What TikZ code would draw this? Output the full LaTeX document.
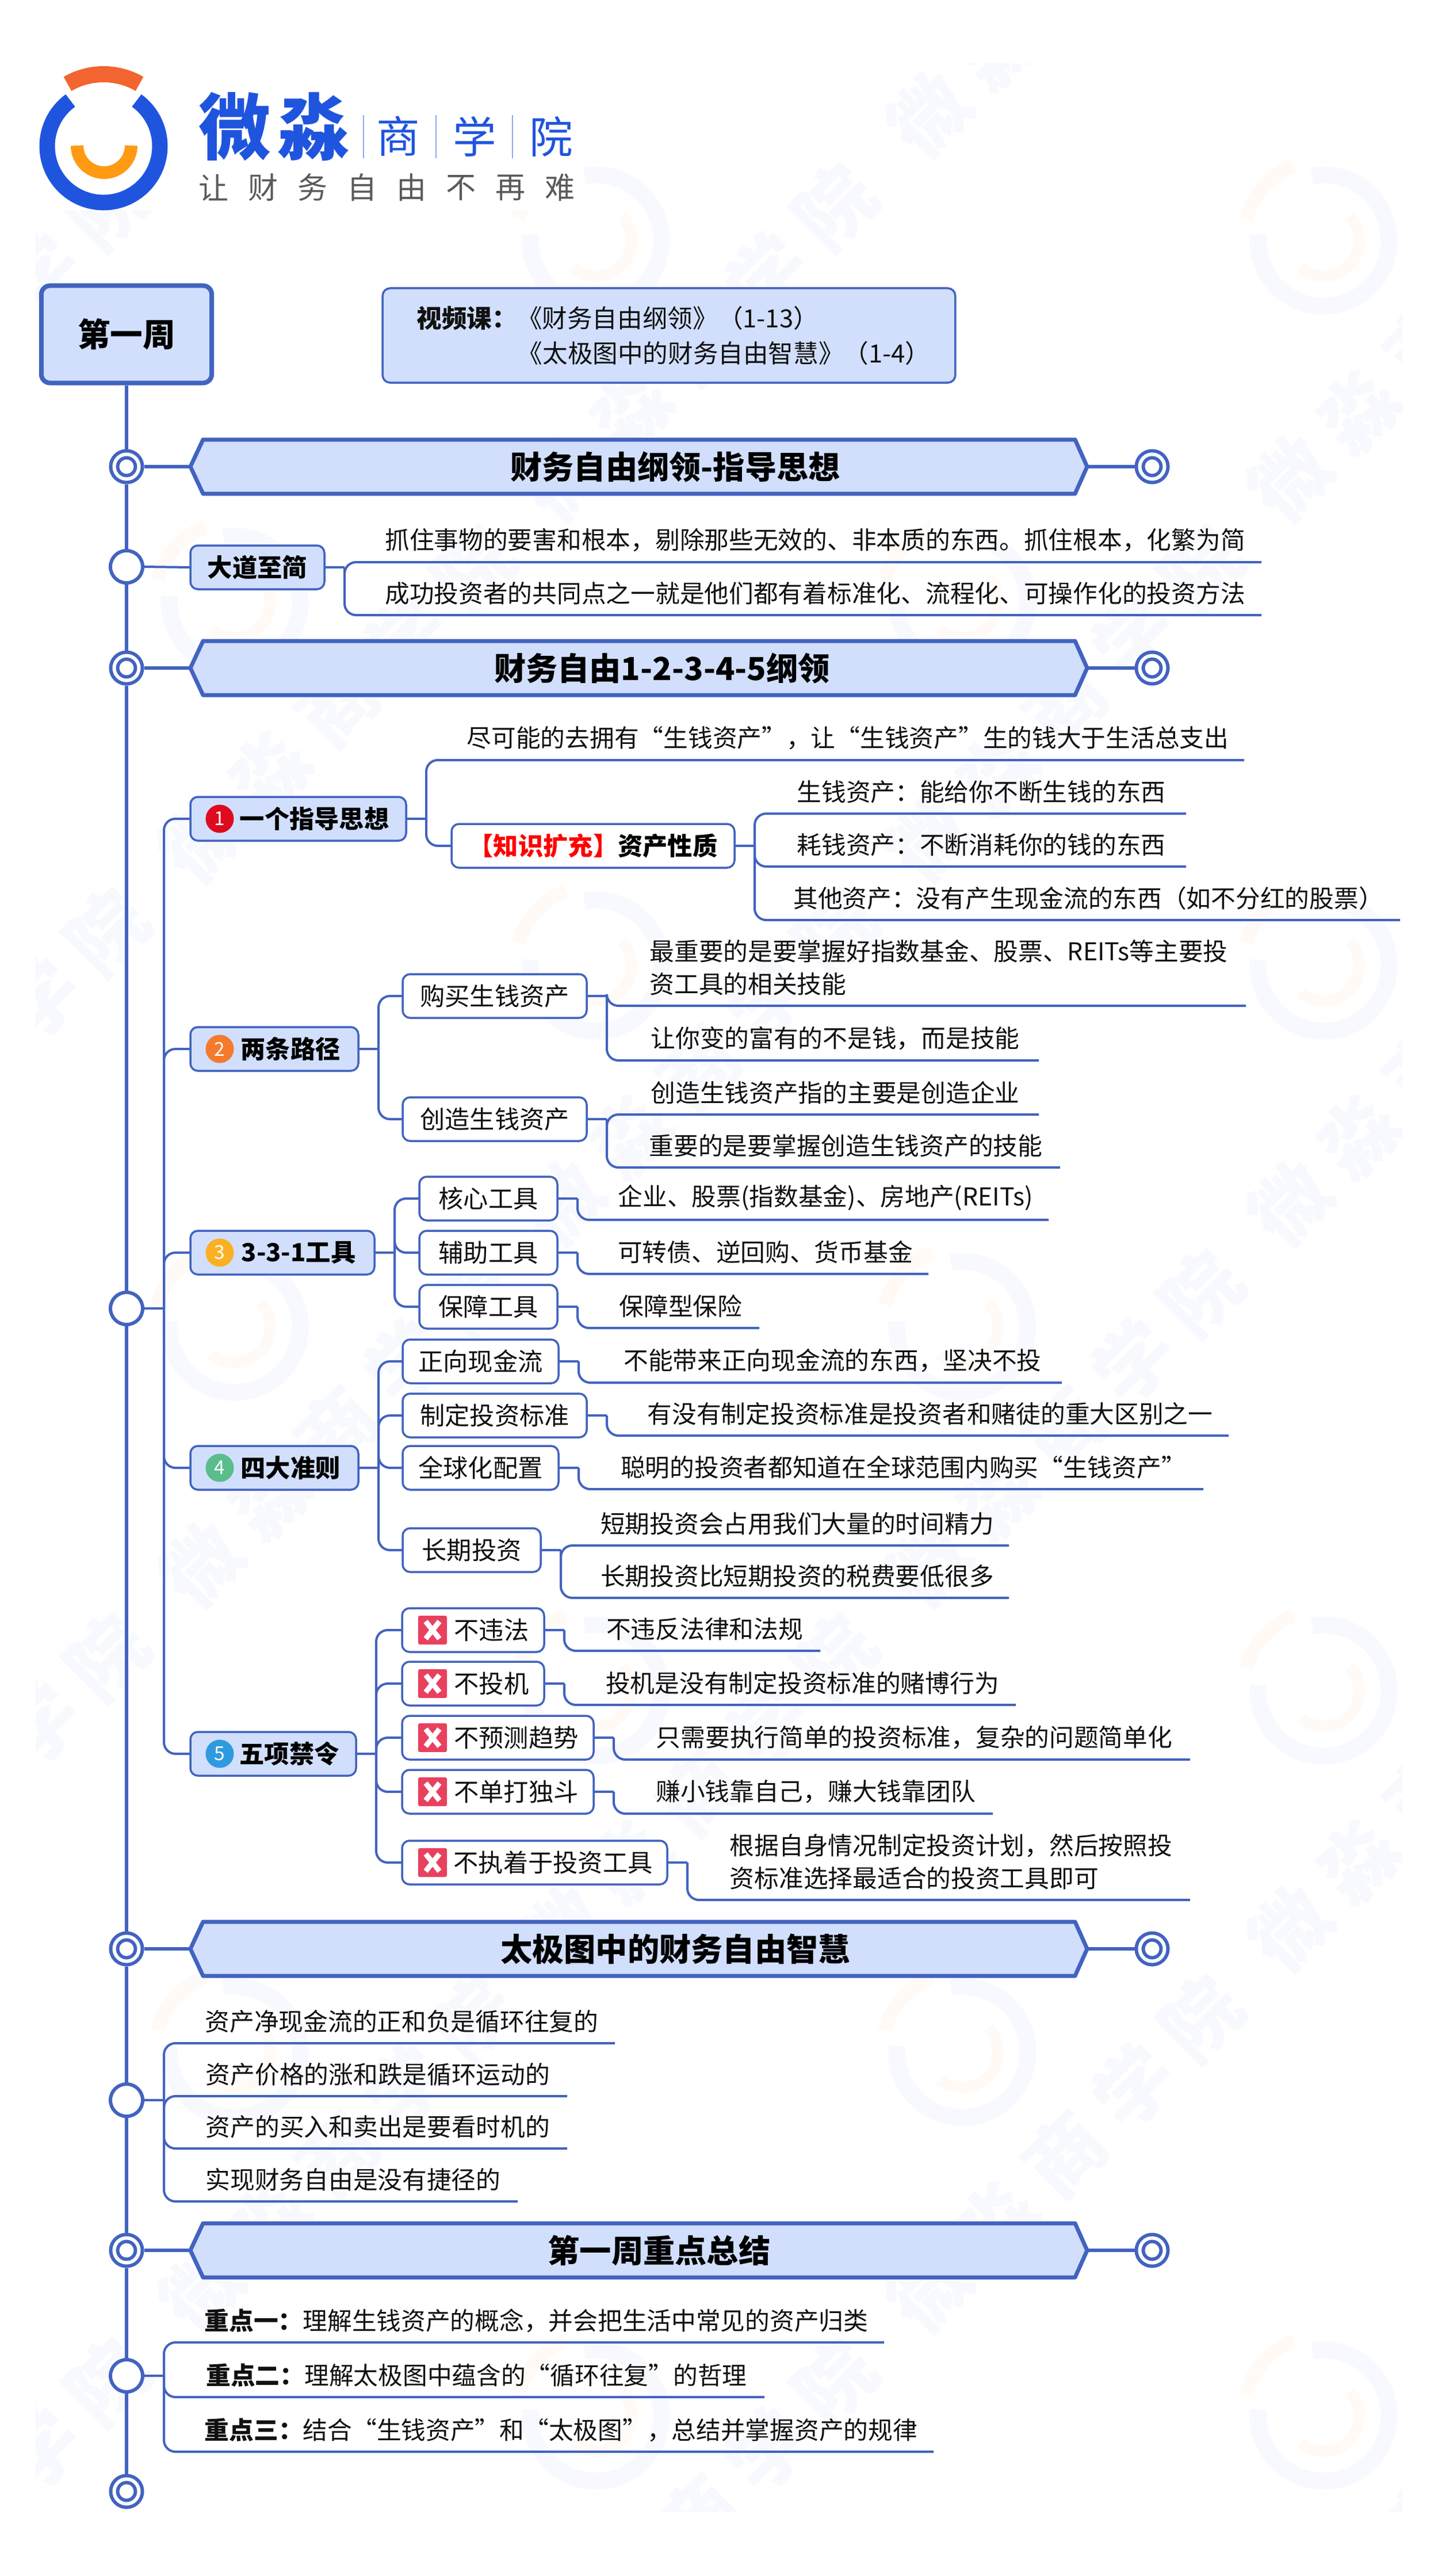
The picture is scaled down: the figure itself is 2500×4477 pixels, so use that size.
\documentclass[tikz,border=0pt]{standalone}
\usepackage{fontspec}
\setmainfont{Noto Sans CJK SC}
\definecolor{lineblue}{HTML}{4263BF}
\definecolor{fillblue}{HTML}{D1DFFD}
\definecolor{logoblue}{HTML}{1F55DE}
\definecolor{logoorange}{HTML}{F26430}
\definecolor{logosmile}{HTML}{FF9A12}
\definecolor{logogray}{HTML}{5A5A5A}
\definecolor{wmblue}{HTML}{F7F9FE}
\definecolor{wmorange}{HTML}{FFFAF6}
\definecolor{xred}{HTML}{E8415F}
\definecolor{txt}{HTML}{111111}
\definecolor{numa}{HTML}{DF0A1E}
\definecolor{numb}{HTML}{F47A2C}
\definecolor{numc}{HTML}{FBB024}
\definecolor{numd}{HTML}{59BE8B}
\definecolor{nume}{HTML}{2F9BDF}
\tikzset{
  x=0.01cm,y=-0.01cm,
  conn/.style={draw=lineblue,line width=.04cm},
  bendline/.style={conn,rounded corners=.2cm},
  spine/.style={draw=lineblue,line width=.06cm},
  thicklink/.style={draw=lineblue,line width=.06cm},
  ringp/.style={circle,draw=lineblue,fill=white,line width=.06cm,minimum size=.56cm,inner sep=0pt,outer sep=.03cm},
  ringd/.style={circle,draw=lineblue,fill=white,line width=.06cm,double=white,double distance=.06cm,minimum size=.43cm,inner sep=0pt,outer sep=.09cm},
  hdrshape/.style={draw=lineblue,fill=fillblue,line width=.07cm,line join=round},
  hdrtext/.style={font=\fontsize{15.7}{18}\selectfont\bfseries,text=black,inner sep=0pt},
  mainbox/.style={rectangle,rounded corners=.13cm,draw=lineblue,fill=fillblue,line width=.035cm,inner sep=0pt,outer sep=0pt,font=\fontsize{12.3}{15}\selectfont\bfseries,text=black},
  subbox/.style={rectangle,rounded corners=.13cm,draw=lineblue,fill=white,line width=.035cm,inner sep=0pt,outer sep=0pt,font=\fontsize{12.3}{15}\selectfont,text=txt},
  leaf/.style={inner sep=0pt,outer sep=0pt,minimum height=.76cm,align=left,font=\fontsize{12.15}{16.3}\selectfont,text=txt},
  numicon/.style={circle,inner sep=0pt,minimum size=.49cm,text=white,font=\fontsize{9.5}{10}\selectfont},
  xicon/.style={rectangle,fill=xred,rounded corners=.03cm,minimum size=.5cm,inner sep=0pt},
  wmtext/.style={rotate=45,text=wmblue,font=\fontsize{38.4}{40}\selectfont\bfseries,inner sep=0pt},
}
\newcommand\myleaf[6][]{\node[leaf,anchor=south west,minimum width={(#4-#3)*0.01cm},#1] (#2) at (#3,#5) {#6};}
\newcommand\mybox[6]{\node[#2,anchor=west,minimum width={(#4-#3)*0.01cm},minimum height=.76cm] (#1) at (#3,#5) {#6};}
\newcommand\myfan[2]{\draw[conn] (#1.east) -- ++(35,0) coordinate (tmpj); \foreach \ch in {#2} {\draw[bendline] (tmpj) |- (\ch.south east);}}
\newcommand\mybfan[2]{\draw[conn] (#1.east) -- ++(35,0) coordinate (tmpj); \foreach \ch in {#2} {\draw[bendline] (tmpj) |- (\ch.west);}}
\newcommand\myhdr[5]{%
  \path[hdrshape] (331,#2) -- (353,#2-47) -- (1869,#2-47) -- (1890,#2) -- (1869,#2+47) -- (353,#2+47) -- cycle;
  \coordinate (#1l) at (331,#2); \coordinate (#1r) at (1890,#2);
  \node[hdrtext] (#1t) at (#3,#2) {#4};
  \node[ringd] (#1e) at (2003,#2) {};
  \draw[thicklink] (#5.east) -- (#1l);
  \draw[thicklink] (#1r) -- (#1e.west);}
\newcommand\myarc[6]{\draw[#5,line width=#6*0.01cm] ({#1+#3*cos(#4)},{#2-#3*sin(#4)}) arc[start angle=#4,delta angle=\arcdelta,radius=#3*0.01cm];}
\newcommand\mynum[4]{\node[numicon,fill=#3] (#1) at (382,#2) {#4};}
\newcommand\myx[2]{\node[xicon] (#1) at (752,#2) {};
  \draw[white,line width=.09cm] (752-12,#2-15) -- (752+12,#2+15) (752-12,#2+15) -- (752+12,#2-15);}
\newcommand\wmark[2]{%
  \def\arcdelta{285}\myarc{#1}{#2}{114}{175}{wmblue}{29}
  \def\arcdelta{52}\myarc{#1}{#2}{140}{112}{wmorange}{24}
  \def\arcdelta{173}\myarc{#1}{#2}{62}{-130}{wmorange}{20}
  \node[wmtext] (wm#1x#2) at (#1+178,#2+177) {微\kern.32cm 淼\kern.32cm 商\kern.32cm 学\kern.32cm 院};}
\begin{document}
\begin{tikzpicture}
\useasboundingbox (0,0) rectangle (2500,4477);
\fill[white] (0,0) rectangle (2500,4477);
% watermark
\begin{scope}
\clip (62,110) rectangle (2437,4365);
\foreach \wx in {2301,1036,-229} {\foreach \wy in {418,1678,2938,4198} {\wmark{\wx}{\wy}}}
\foreach \wx in {1673,408} {\foreach \wy in {-214,1046,2306,3566} {\wmark{\wx}{\wy}}}
\end{scope}
% logo
\fill[white] (60,100) rectangle (1000,365);
\def\arcdelta{288}\myarc{180}{254}{98}{126}{logoblue}{27}
\def\arcdelta{60}\myarc{180}{254}{125}{60}{logoorange}{28}
\def\arcdelta{180}\myarc{181}{253}{47}{180}{logosmile}{22}
\node[text=logoblue,font=\fontsize{35.6}{38}\selectfont\bfseries,inner sep=0pt] (lwei) at (408,220) {微};
\node[text=logoblue,font=\fontsize{35.6}{38}\selectfont\bfseries,inner sep=0pt] (lmiao) at (545,220) {淼};
\node[text=logoblue,font=\fontsize{21.5}{24}\selectfont,inner sep=0pt] (lshang) at (692,237) {商};
\node[text=logoblue,font=\fontsize{21.5}{24}\selectfont,inner sep=0pt] (lxue) at (825,237) {学};
\node[text=logoblue,font=\fontsize{21.5}{24}\selectfont,inner sep=0pt] (lyuan) at (958,237) {院};
\draw[draw=logoblue!50,line width=.02cm] (632,200) -- (632,275) (758,200) -- (758,275) (891,200) -- (891,275);
\foreach \i/\ch in {0/让,1/财,2/务,3/自,4/由,5/不,6/再,7/难} {
  \node[text=logogray,font=\fontsize{14.8}{16}\selectfont,inner sep=0pt] (tag\i) at (372+\i*86,326) {\ch};}
% title and video box
\node[rectangle,rounded corners=.15cm,draw=lineblue,fill=fillblue,line width=.08cm,inner sep=0pt,outer sep=.04cm,minimum width=2.96cm,minimum height=1.69cm,font=\fontsize{16.1}{18}\selectfont\bfseries,text=black] (top) at (220,581) {第一周};
\node[rectangle,rounded corners=.13cm,draw=lineblue,fill=fillblue,line width=.035cm,inner sep=0pt,minimum width=9.95cm,minimum height=1.64cm,font=\fontsize{12.4}{17.3}\selectfont,text=txt] (video) at (1163,583) {\parbox{9.3cm}{\raggedright\hspace*{.27cm}\textbf{视频课：}《财务自由纲领》（1-13）\\\hspace*{2.02cm}《太极图中的财务自由智慧》（1-4）}};
% spine rings
\node[ringd] (r1) at (220,811) {};
\node[ringp] (r2) at (220,985) {};
\node[ringd] (r3) at (220,1161) {};
\node[ringp] (r4) at (220,2274) {};
\node[ringd] (r5) at (220,3387) {};
\node[ringp] (r6) at (220,3650) {};
\node[ringd] (r7) at (220,3911) {};
\node[ringp] (r8) at (220,4129) {};
\node[ringd] (r9) at (220,4330) {};
\draw[spine] (top.south) -- (r1.north) (r1.south) -- (r2.north) (r2.south) -- (r3.north) (r3.south) -- (r4.north) (r4.south) -- (r5.north) (r5.south) -- (r6.north) (r6.south) -- (r7.north) (r7.south) -- (r8.north) (r8.south) -- (r9.north);
% headers
\myhdr{ha}{811}{1174}{财务自由纲领-指导思想}{r1}
\myhdr{hb}{1161}{1151}{财务自由1-2-3-4-5纲领}{r3}
\myhdr{hc}{3387}{1174}{太极图中的财务自由智慧}{r5}
\myhdr{hd}{3911}{1146}{第一周重点总结}{r7}
% 大道至简
\mybox{dao}{mainbox}{331}{564}{986}{大道至简}
\draw[conn] (r2.east) -- (dao.west);
\myleaf{la}{641}{2193}{977}{抓住事物的要害和根本，剔除那些无效的、非本质的东西。抓住根本，化繁为简}
\myleaf{lb}{641}{2193}{1069}{成功投资者的共同点之一就是他们都有着标准化、流程化、可操作化的投资方法}
\myfan{dao}{la,lb}
% five main branches
\mybox{bone}{mainbox}{331}{706}{1423}{\hspace*{.56cm}一个指导思想}
\mybox{btwo}{mainbox}{331}{623}{1823}{\hspace*{.56cm}两条路径}
\mybox{bthree}{mainbox}{331}{651}{2177}{\hspace*{.56cm}3-3-1工具}
\mybox{bfour}{mainbox}{331}{623}{2551}{\hspace*{.56cm}四大准则}
\mybox{bfive}{mainbox}{331}{619}{3048}{\hspace*{.56cm}五项禁令}
\mynum{none}{1423}{numa}{1}
\mynum{ntwo}{1823}{numb}{2}
\mynum{nthree}{2177}{numc}{3}
\mynum{nfour}{2551}{numd}{4}
\mynum{nfive}{3048}{nume}{5}
\draw[conn] (r4.east) -- ++(34,0) coordinate (busj);
\foreach \ch in {bone,btwo,bthree,bfour,bfive} {\draw[bendline] (busj) |- (\ch.west);}
% branch 1
\myleaf{aa}{785}{2163}{1321}{尽可能的去拥有“生钱资产”，让“生钱资产”生的钱大于生活总支出}
\mybox{kz}{subbox}{785}{1277}{1470}{\bfseries\color{red}【知识扩充】\color{black}资产性质}
\myfan{bone}{aa}
\mybfan{bone}{kz}
\myleaf{ka}{1350}{2062}{1414}{生钱资产：能给你不断生钱的东西}
\myleaf{kb}{1350}{2062}{1506}{耗钱资产：不断消耗你的钱的东西}
\myleaf{kc}{1350}{2434}{1599}{其他资产：没有产生现金流的东西（如不分红的股票）}
\myfan{kz}{ka,kb,kc}
% branch 2
\mybox{gm}{subbox}{700}{1020}{1731}{购买生钱资产}
\mybox{cz}{subbox}{700}{1020}{1945}{创造生钱资产}
\mybfan{btwo}{gm,cz}
\myleaf[minimum height=1.33cm]{gma}{1098}{2166}{1748}{最重要的是要掌握好指数基金、股票、REITs等主要投\\资工具的相关技能}
\myleaf{gmb}{1098}{1806}{1843}{让你变的富有的不是钱，而是技能}
\myfan{gm}{gma,gmb}
\myleaf{cza}{1098}{1806}{1937}{创造生钱资产指的主要是创造企业}
\myleaf{czb}{1098}{1843}{2029}{重要的是要掌握创造生钱资产的技能}
\myfan{cz}{cza,czb}
% branch 3
\mybox{hx}{subbox}{729}{969}{2083}{核心工具}
\mybox{fz}{subbox}{729}{969}{2177}{辅助工具}
\mybox{bz}{subbox}{729}{969}{2271}{保障工具}
\mybfan{bthree}{hx,fz,bz}
\myleaf{hxa}{1047}{1823}{2120}{企业、股票(指数基金)、房地产(REITs)}
\myleaf{fza}{1047}{1614}{2214}{可转债、逆回购、货币基金}
\myleaf{bza}{1047}{1320}{2308}{保障型保险}
\myfan{hx}{hxa}
\myfan{fz}{fza}
\myfan{bz}{bza}
% branch 4
\mybox{zx}{subbox}{700}{971}{2366}{正向现金流}
\mybox{zd}{subbox}{700}{1020}{2460}{制定投资标准}
\mybox{qq}{subbox}{700}{971}{2551}{全球化配置}
\mybox{cq}{subbox}{700}{940}{2694}{长期投资}
\mybfan{bfour}{zx,zd,qq,cq}
\myleaf{zxa}{1049}{1846}{2403}{不能带来正向现金流的东西，坚决不投}
\myleaf{zda}{1098}{2136}{2495}{有没有制定投资标准是投资者和赌徒的重大区别之一}
\myleaf{qqa}{1049}{2092}{2588}{聪明的投资者都知道在全球范围内购买“生钱资产”}
\myleaf{cqa}{1018}{1754}{2686}{短期投资会占用我们大量的时间精力}
\myleaf{cqb}{1018}{1754}{2777}{长期投资比短期投资的税费要低很多}
\myfan{zx}{zxa}
\myfan{zd}{zda}
\myfan{qq}{qqa}
\myfan{cq}{cqa,cqb}
% branch 5
\mybox{ba}{subbox}{699}{946}{2833}{\hspace*{.64cm}不违法}
\mybox{bb}{subbox}{699}{946}{2926}{\hspace*{.64cm}不投机}
\mybox{bc}{subbox}{699}{1032}{3020}{\hspace*{.64cm}不预测趋势}
\mybox{bd}{subbox}{699}{1032}{3114}{\hspace*{.64cm}不单打独斗}
\mybox{be}{subbox}{699}{1160}{3237}{\hspace*{.64cm}不执着于投资工具}
\myx{xa}{2833}
\myx{xb}{2926}
\myx{xc}{3020}
\myx{xd}{3114}
\myx{xe}{3237}
\mybfan{bfive}{ba,bb,bc,bd,be}
\myleaf{baa}{1024}{1426}{2869}{不违反法律和法规}
\myleaf{bba}{1024}{1766}{2963}{投机是没有制定投资标准的赌博行为}
\myleaf{bca}{1110}{2069}{3058}{只需要执行简单的投资标准，复杂的问题简单化}
\myleaf{bda}{1110}{1726}{3152}{赚小钱靠自己，赚大钱靠团队}
\myleaf[minimum height=1.33cm]{bea}{1238}{2069}{3302}{根据自身情况制定投资计划，然后按照投\\资标准选择最适合的投资工具即可}
\myfan{ba}{baa}
\myfan{bb}{bba}
\myfan{bc}{bca}
\myfan{bd}{bda}
\myfan{be}{bea}
% section 3
\myleaf{ta}{328}{1069}{3551}{资产净现金流的正和负是循环往复的}
\myleaf{tb}{328}{986}{3643}{资产价格的涨和跌是循环运动的}
\myleaf{tc}{328}{986}{3734}{资产的买入和卖出是要看时机的}
\myleaf{td}{328}{900}{3826}{实现财务自由是没有捷径的}
\draw[conn] (r6.east) -- ++(34,0) coordinate (busk);
\foreach \ch in {ta,tb,tc,td} {\draw[bendline] (busk) |- (\ch.south east);}
% section 4
\myleaf{za}{328}{1537}{4071}{\textbf{重点一：}理解生钱资产的概念，并会把生活中常见的资产归类}
\myleaf{zb}{328}{1329}{4166}{\textbf{重点二：}理解太极图中蕴含的“循环往复”的哲理}
\myleaf{zc}{328}{1623}{4261}{\textbf{重点三：}结合“生钱资产”和“太极图”，总结并掌握资产的规律}
\draw[conn] (r8.east) -- ++(34,0) coordinate (busl);
\foreach \ch in {za,zb,zc} {\draw[bendline] (busl) |- (\ch.south east);}
\end{tikzpicture}
\end{document}
